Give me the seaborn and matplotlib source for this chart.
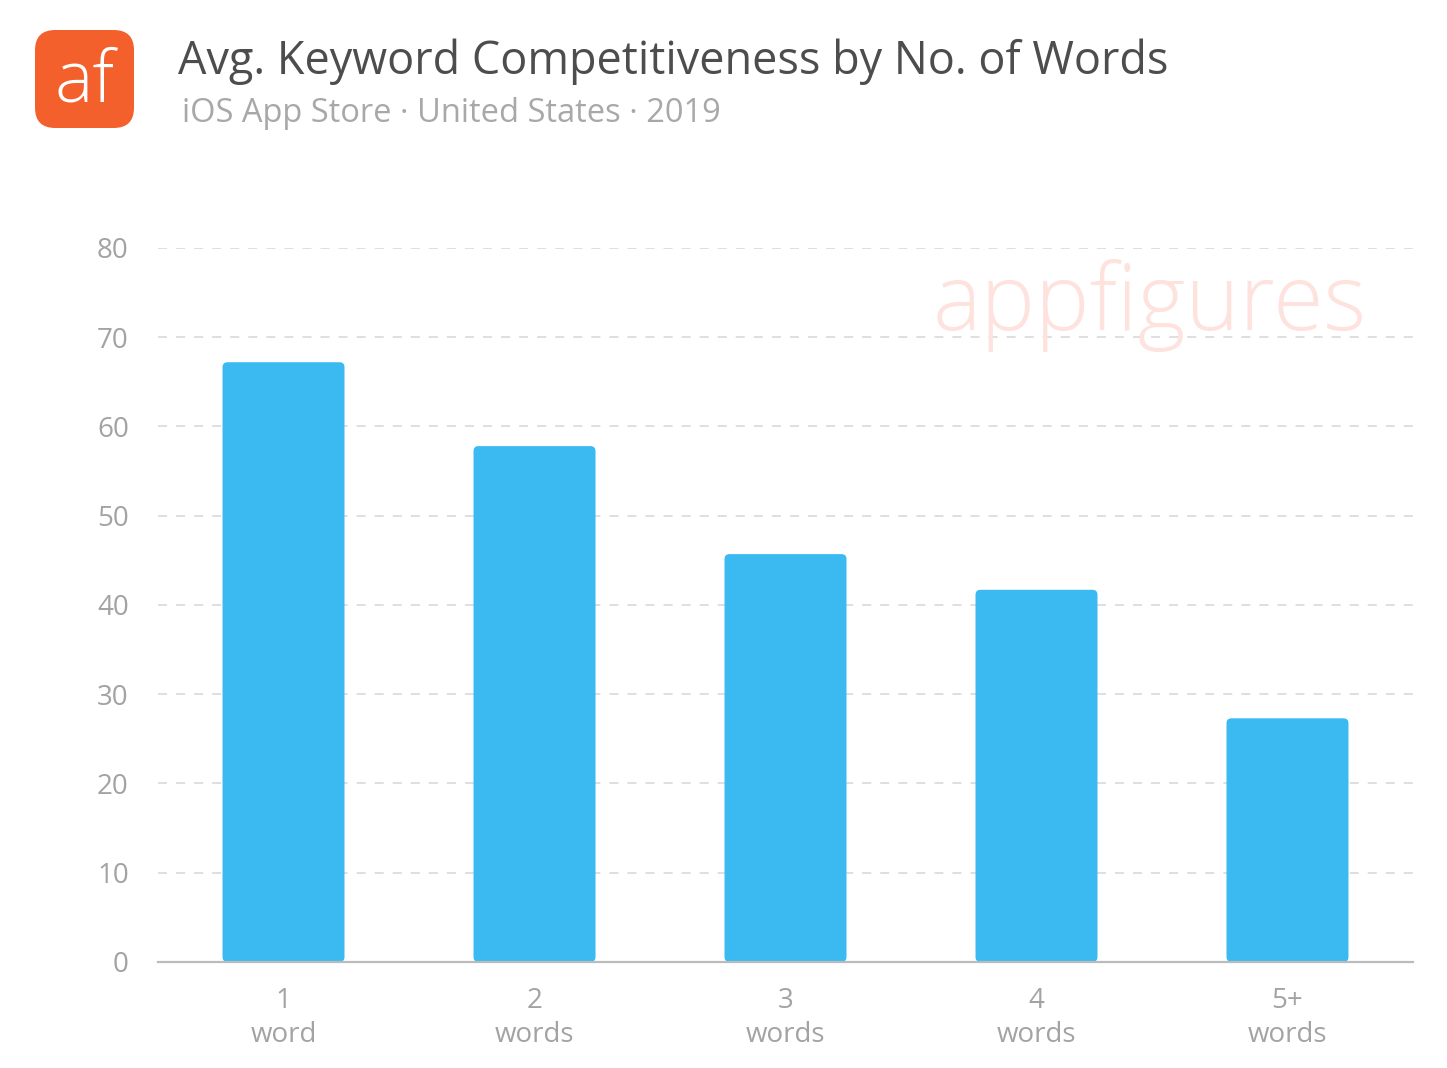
import matplotlib
matplotlib.use("Agg")
import matplotlib.pyplot as plt
import numpy as np
import pandas as pd
import seaborn as sns
from matplotlib.patches import FancyBboxPatch

# data
categories = ["1\nword", "2\nwords", "3\nwords", "4\nwords", "5+\nwords"]
avg_competitiveness = [67.2, 57.8, 45.7, 41.7, 27.3]
y_ticks = [0, 10, 20, 30, 40, 50, 60, 70, 80]

BAR_COLOR = "#3BBAF2"
TICK_COLOR = "#A3A3A3"

sns.set_theme(style="white")
plt.rcParams["font.family"] = ["Open Sans", "DejaVu Sans"]

df = pd.DataFrame({"words": categories, "score": avg_competitiveness})

fig = plt.figure(figsize=(14.47, 10.68), dpi=100)
ax = fig.add_axes([0.1092, 0.0993, 0.8673, 0.6685])

sns.barplot(data=df, x="words", y="score", color=BAR_COLOR, width=0.486,
            saturation=1, ax=ax, zorder=3)

ax.set_ylim(0, 80)
ax.set_xlim(-0.5, len(categories) - 0.5)
ax.set_yticks(y_ticks)
ax.set_xlabel("")
ax.set_ylabel("")

# swap the square bars for slightly rounded ones (same geometry)
px_x = ax.get_position().width * fig.get_figwidth() * fig.dpi / len(categories)
px_y = ax.get_position().height * fig.get_figheight() * fig.dpi / 80
radius = 5.0 / px_x
for bar in list(ax.patches):
    x0, y0 = bar.get_x(), bar.get_y()
    w, h = bar.get_width(), bar.get_height()
    bar.set_visible(False)
    ax.add_patch(FancyBboxPatch((x0, y0), w, h,
                                boxstyle=f"round,pad=0,rounding_size={radius}",
                                mutation_aspect=px_x / px_y,
                                facecolor=BAR_COLOR, edgecolor="none", zorder=3))

# dashed horizontal grid
for y in y_ticks[1:]:
    ax.axhline(y, color="#DCDCDC", linestyle=(0, (5, 5)), linewidth=1.3, zorder=1)

for side in ["top", "right", "left"]:
    ax.spines[side].set_visible(False)
ax.spines["bottom"].set_color("#BBBBBB")
ax.spines["bottom"].set_linewidth(1.6)
ax.spines["bottom"].set_zorder(4)

ax.tick_params(axis="y", length=0, pad=21, labelsize=20, labelcolor=TICK_COLOR)
ax.tick_params(axis="x", length=0, pad=18, labelsize=20, labelcolor=TICK_COLOR)
for lbl in ax.get_xticklabels():
    lbl.set_linespacing(1.3)
    lbl.set_verticalalignment("top")

# watermark
ax.text(0.963, 0.92, "appfigures", transform=ax.transAxes, ha="right", va="center",
        fontsize=66, color="#FDE2DD", fontweight="light", zorder=2)

# logo
logo = FancyBboxPatch((35 / 1447, 1 - 128 / 1068), 99 / 1447, 98 / 1068,
                      boxstyle="round,pad=0,rounding_size=0.014",
                      transform=fig.transFigure, facecolor="#F4602C",
                      edgecolor="none", mutation_aspect=1447 / 1068)
fig.patches.append(logo)
fig.text(84 / 1447, 1 - 82 / 1068, "af", ha="center", va="center",
         fontsize=52, color="white", fontweight="light")

# title and subtitle
fig.text(178 / 1447, 1 - 62 / 1068, "Avg. Keyword Competitiveness by No. of Words",
         ha="left", va="center", fontsize=32.4, color="#4D4D4D")
fig.text(182 / 1447, 1 - 113 / 1068, "iOS App Store \u00b7 United States \u00b7 2019",
         ha="left", va="center", fontsize=23.5, color="#A8A8A8")

fig.savefig("out.png", dpi=100, facecolor="white")
